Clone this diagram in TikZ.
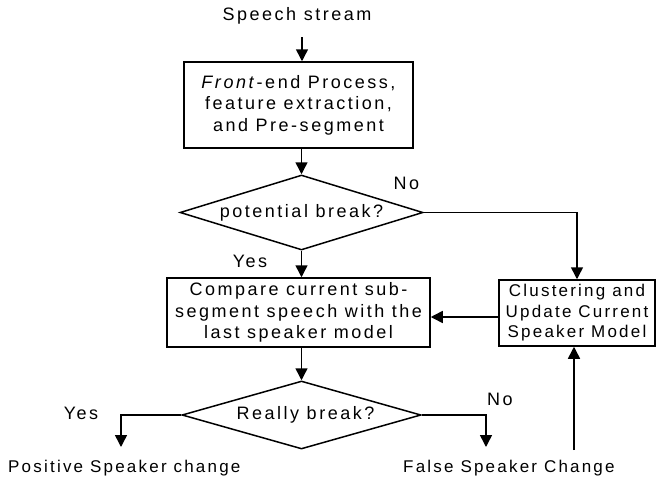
\documentclass[tikz,border=0pt]{standalone}
\usepackage{fontspec}
\setmainfont{Liberation Sans}[LetterSpace=14]
\usetikzlibrary{shapes.geometric,arrows.meta}
\begin{document}
\begin{tikzpicture}[x=1pt,y=-1pt,
  arr/.style={-{Triangle[width=12pt,length=12pt]},line width=1.5pt},
  big/.style={font=\fontsize{18}{21.5}\selectfont},
  small/.style={font=\fontsize{17}{20.5}\selectfont\addfontfeature{LetterSpace=13}},
  box/.style={draw,line width=1.5pt,inner sep=0pt,align=center},
  dia/.style={draw,diamond,line width=1.5pt,inner sep=0pt,big},
  lbl/.style={inner sep=0pt}]
\useasboundingbox (0,0) rectangle (657,479);

\node[lbl,big,anchor=base] (speech) at (297,20) {Speech stream};
\coordinate (s0) at (302,37);

\node[box,big,minimum width=229pt,minimum height=86pt] (box1) at (298.5,105)
  {\textit{Front}-end Process,\\feature extraction,\\and Pre-segment};

\node[dia,minimum width=243pt,minimum height=75pt,aspect=3.24] (d1) at (301.5,212.5) {potential break?};

\node[box,big,minimum width=263pt,minimum height=69pt] (box2) at (298.5,312.5)
  {Compare current sub-\\segment speech with the\\last speaker model};

\node[box,small,minimum width=156pt,minimum height=66pt] (box3) at (577,313)
  {Clustering and\\Update Current\\Speaker Model};

\node[dia,minimum width=239pt,minimum height=68pt,aspect=3.5] (d2) at (301.5,415) {\hspace{8pt}Really break?};

\node[lbl,big] (no1) at (406.5,183.5) {No};
\node[lbl,big] (yes1) at (250,261) {Yes};
\node[lbl,big] (yes2) at (81,413) {Yes};
\node[lbl,big] (no2) at (500,399) {No};

\node[lbl,small,anchor=base west] (pos) at (8,472) {Positive Speaker change};
\node[lbl,small,anchor=base west] (false) at (403,472) {False Speaker Change};

\coordinate (pc) at (121,447);
\coordinate (fc) at (486,447);
\coordinate (f0) at (574,450);

\draw[arr] (s0) -- (s0 |- box1.north);
\draw[arr] (box1.south -| d1.north) -- (d1.north);
\draw[arr] (d1.east) -| (box3.north);
\draw[arr] (d1.south) -- (d1.south |- box2.north);
\draw[arr] ([yshift=-4pt]box3.west) -- ([yshift=-4pt]box3.west -| box2.east);
\draw[arr] (box2.south -| d2.north) -- (d2.north);
\draw[arr] (f0) -- (f0 |- box3.south);
\draw[arr] (d2.west) -| (pc);
\draw[arr] (d2.east) -| (fc);
\end{tikzpicture}
\end{document}
